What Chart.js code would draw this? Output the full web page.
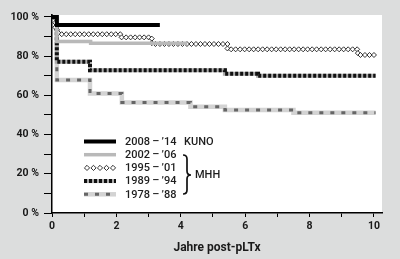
<!DOCTYPE html>
<html lang="de">
<head>
<meta charset="UTF-8">
<title>Überleben nach pLTx</title>
<script src="https://cdn.jsdelivr.net/npm/chart.js"></script>
<style>
  html, body { margin: 0; padding: 0; background: #dcdddd; }
  #wrap { width: 400px; height: 259px; }
</style>
</head>
<body>
<div id="wrap"><canvas id="survivalChart"></canvas></div>
<script>
// Überleben (%) nach Jahren post-pLTx, Stufenkurven
const seriesLabels = ["2008\u2009–\u2009’14", "2002\u2009–\u2009’06", "1995\u2009–\u2009’01", "1989\u2009–\u2009’94", "1978\u2009–\u2009’88"];

const years2008 = [0, 0.15, 3.35];
const surv2008  = [100, 95.9, 95.9];

const years2002 = [0, 0.15, 1.2, 4.2];
const surv2002  = [100, 87.5, 86.6, 86.6];

const years1995 = [0, 0.1, 0.2, 2.15, 3.1, 5.45, 9.5, 10.05];
const surv1995  = [100, 93.4, 91.2, 89.6, 86.2, 83.5, 80.6, 80.6];

const years1989 = [0, 0.15, 1.18, 5.37, 6.4, 10.05];
const surv1989  = [100, 77.2, 72.8, 71, 70, 70];

const years1978 = [0, 0.15, 1.18, 2.17, 4.3, 5.37, 7.5, 10.05];
const surv1978  = [100, 67.9, 61, 56.4, 54.2, 52.6, 51.2, 51.2];

const xTickLabels = [0, 2, 4, 6, 8, 10];
const yTickLabels = [0, 20, 40, 60, 80, 100];

const FONT = 'Roboto, "DejaVu Sans Condensed", sans-serif';

// line looks: each series is one or more stacked strokes
const looks = [
  [{ color: '#000', width: 4 }],
  [{ color: '#b9b9b9', width: 3.5 }],
  [{ diamonds: true }],
  [{ color: '#ababab', width: 4 }, { color: '#111', width: 4, dash: [3, 2] }],
  [{ color: '#d3d3d3', width: 4.5 }, { color: '#666', width: 3, dash: [4, 7] }]
];
const allYears = [years2008, years2002, years1995, years1989, years1978];
const allSurv = [surv2008, surv2002, surv1995, surv1989, surv1978];

function toPoints(xs, ys) {
  return xs.map((x, i) => ({ x: x, y: ys[i] }));
}

const datasets = [];
allYears.forEach((xs, s) => {
  // top layer first, chart.js paints index 0 last
  looks[s].slice().reverse().forEach(layer => {
    datasets.push({
      label: seriesLabels[s],
      data: toPoints(xs, allSurv[s]),
      stepped: 'before',
      pointRadius: 0,
      borderColor: layer.diamonds ? 'transparent' : layer.color,
      borderWidth: layer.diamonds ? 0 : layer.width,
      borderDash: layer.dash || [],
      borderCapStyle: 'butt',
      diamondMarks: !!layer.diamonds,
      fill: false
    });
  });
});

function steppedPath(pts) {
  const path = [];
  pts.forEach((p, i) => {
    if (i > 0) path.push({ x: p.x, y: pts[i - 1].y });
    path.push({ x: p.x, y: p.y });
  });
  return path;
}

function marksAlong(path, spacing) {
  const out = [];
  let carry = 0;
  for (let i = 1; i < path.length; i++) {
    const a = path[i - 1], b = path[i];
    const len = Math.hypot(b.x - a.x, b.y - a.y);
    if (len === 0) continue;
    let d = carry;
    while (d <= len) {
      out.push({ x: a.x + (b.x - a.x) * d / len, y: a.y + (b.y - a.y) * d / len });
      d += spacing;
    }
    carry = d - len;
  }
  return out;
}

function drawDiamond(ctx, x, y, r) {
  ctx.beginPath();
  ctx.moveTo(x, y - r);
  ctx.lineTo(x + r, y);
  ctx.lineTo(x, y + r);
  ctx.lineTo(x - r, y);
  ctx.closePath();
  ctx.fill();
  ctx.stroke();
}

function strokeLayer(ctx, layer, x1, x2, y) {
  if (layer.diamonds) {
    ctx.fillStyle = '#fff';
    ctx.strokeStyle = '#000';
    ctx.lineWidth = 0.8;
    for (let i = 0; i < 5; i++) drawDiamond(ctx, x1 + 3 + i * 6.5, y, 2.6);
    return;
  }
  ctx.beginPath();
  ctx.setLineDash(layer.dash || []);
  ctx.strokeStyle = layer.color;
  ctx.lineWidth = layer.width;
  ctx.moveTo(x1, y);
  ctx.lineTo(x2, y);
  ctx.stroke();
  ctx.setLineDash([]);
}

const backdrop = {
  id: 'backdrop',
  beforeDraw(chart) {
    const { ctx, chartArea: a } = chart;
    ctx.save();
    ctx.fillStyle = '#dcdddd';
    ctx.fillRect(0, 0, chart.width, chart.height);
    ctx.fillStyle = '#fff';
    ctx.fillRect(a.left, a.top, a.right - a.left, a.bottom - a.top);
    ctx.restore();
  }
};

const diamondLine = {
  id: 'diamondLine',
  afterDatasetDraw(chart, args) {
    const ds = chart.data.datasets[args.index];
    if (!ds.diamondMarks) return;
    const { ctx, chartArea: a } = chart;
    const pts = args.meta.data.map(p => ({ x: p.x, y: p.y }));
    ctx.save();
    ctx.beginPath();
    ctx.rect(a.left, a.top - 3, a.right - a.left, a.bottom - a.top + 3);
    ctx.clip();
    ctx.fillStyle = '#fff';
    ctx.strokeStyle = '#000';
    ctx.lineWidth = 0.8;
    marksAlong(steppedPath(pts), 4.5).forEach(m => drawDiamond(ctx, m.x, m.y, 2.5));
    ctx.restore();
  }
};

const keyBox = {
  id: 'keyBox',
  afterDraw(chart) {
    const ctx = chart.ctx;
    const rows = [141.5, 154.7, 167.9, 181.1, 194.3];
    ctx.save();
    ctx.font = '500 11px ' + FONT;
    ctx.textBaseline = 'middle';
    ctx.textAlign = 'left';
    rows.forEach((y, s) => {
      looks[s].forEach(layer => strokeLayer(ctx, layer, 84, 116, y));
      ctx.fillStyle = '#1e1e1e';
      ctx.fillText(seriesLabels[s], 125, y + 0.5);
    });
    ctx.fillText('KUNO', 184, rows[0] + 0.5);
    ctx.fillText('MHH', 195, 175.5);
    // brace around the MHH rows
    const x0 = 183, top = 155, mid = 175, bot = 194;
    ctx.beginPath();
    ctx.strokeStyle = '#111';
    ctx.lineWidth = 1.7;
    ctx.moveTo(x0, top);
    ctx.quadraticCurveTo(x0 + 4, top, x0 + 4, top + 4);
    ctx.lineTo(x0 + 4, mid - 4);
    ctx.quadraticCurveTo(x0 + 4, mid, x0 + 8, mid);
    ctx.quadraticCurveTo(x0 + 4, mid, x0 + 4, mid + 4);
    ctx.lineTo(x0 + 4, bot - 4);
    ctx.quadraticCurveTo(x0 + 4, bot, x0, bot);
    ctx.stroke();
    ctx.restore();
  }
};

new Chart(document.getElementById('survivalChart'), {
  type: 'line',
  data: { datasets: datasets },
  plugins: [backdrop, diamondLine, keyBox],
  options: {
    responsive: true,
    maintainAspectRatio: false,
    animation: false,
    devicePixelRatio: 1,
    layout: { padding: { left: 0, top: 15, right: 18, bottom: 0 } },
    plugins: { legend: { display: false }, tooltip: { enabled: false } },
    scales: {
      x: {
        type: 'linear',
        min: 0,
        max: 10.25,
        afterBuildTicks: s => { s.ticks = s.ticks.filter(t => t.value <= 10); },
        afterFit: s => { s.height = 46; },
        ticks: {
          stepSize: 1,
          includeBounds: false,
          autoSkip: false,
          maxRotation: 0,
          padding: 3,
          color: '#1a1a1a',
          font: { family: FONT, size: 10.5, weight: 'bold' },
          callback: v => xTickLabels.includes(v) ? String(v) : ''
        },
        grid: { drawOnChartArea: false, tickLength: 4, color: '#000' },
        border: { color: '#000', width: 1.5 },
        title: {
          display: true,
          text: 'Jahre post-pLTx',
          color: '#1a1a1a',
          font: { family: FONT, size: 12, weight: 'bold' },
          padding: { top: 2, bottom: 4 }
        }
      },
      y: {
        min: 0,
        max: 101,
        afterBuildTicks: s => { s.ticks = s.ticks.filter(t => t.value <= 100); },
        afterFit: s => { s.width = 52; },
        ticks: {
          stepSize: 10,
          includeBounds: false,
          autoSkip: false,
          padding: 5,
          color: '#1a1a1a',
          font: { family: FONT, size: 10.5, weight: 'bold' },
          callback: v => yTickLabels.includes(v) ? v + ' %' : ''
        },
        grid: { drawOnChartArea: false, tickLength: 8, color: '#000' },
        border: { color: '#000', width: 1.5 }
      }
    }
  }
});
</script>
</body>
</html>
